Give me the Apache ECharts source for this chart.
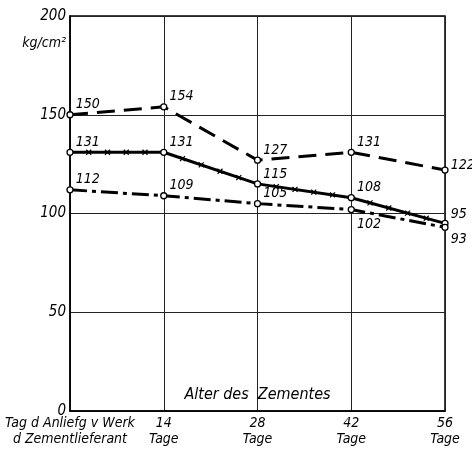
<!DOCTYPE html>
<html><head><meta charset="utf-8">
<script src="https://cdn.jsdelivr.net/npm/echarts@6/dist/echarts.min.js"></script>
<style>html,body{margin:0;padding:0;background:#fff}#c{width:472px;height:449px}</style>
</head><body><div id="c"></div>
<script>
const categories = ['Tag d Anliefg v Werk\nd Zementlieferant', '14\nTage', '28\nTage', '42\nTage', '56\nTage'];
const dashedVals = [150, 154, 127, 131, 122];
const crossedVals = [131, 131, 115, 108, 95];
const dashDotVals = [112, 109, 105, 102, 93];
const yMin = 0, yMax = 200, yStep = 50;
const axisTitle = 'Alter des  Zementes';
const unitLabel = 'kg/cm²';

const FONT = 'DejaVu Sans Condensed';
const labelBase = {show: true, position: 'right', distance: 2, offset: [0, -10],
  fontFamily: FONT, fontStyle: 'italic', fontSize: 14, color: '#000'};
function pts(vals, overrides) {
  return vals.map((v, i) => {
    const o = {value: v};
    if (overrides && overrides[i]) o.label = Object.assign({}, overrides[i]);
    return o;
  });
}
const crossSegs = crossedVals.slice(0, -1).map((v, i) => [i, v, crossedVals[i + 1]]);

const chart = echarts.init(document.getElementById('c'));
const lineBase = {type: 'line', symbol: 'circle', symbolSize: 6, showAllSymbol: true,
  itemStyle: {color: '#fff', borderColor: '#000', borderWidth: 1.3}, label: labelBase, z: 3};
chart.setOption({
  animation: false,
  backgroundColor: '#fff',
  grid: {left: 70, right: 27, top: 16, bottom: 38, show: true, borderColor: '#000', borderWidth: 1.5,
    containLabel: false, outerBoundsMode: 'none'},
  xAxis: {
    type: 'category', data: categories, boundaryGap: false,
    axisLine: {lineStyle: {color: '#000', width: 1.5}}, axisTick: {show: false},
    axisLabel: {color: '#000', fontFamily: FONT, fontStyle: 'italic', fontSize: 14, lineHeight: 16, margin: 4, interval: 0},
    splitLine: {show: true, lineStyle: {color: '#222', width: 1}},
    name: axisTitle, nameLocation: 'middle', nameGap: -24, nameMoveOverlap: false,
    nameTextStyle: {color: '#000', fontFamily: FONT, fontStyle: 'italic', fontSize: 16}
  },
  yAxis: {
    type: 'value', min: yMin, max: yMax, interval: yStep,
    axisLine: {show: true, lineStyle: {color: '#000', width: 1.5}}, axisTick: {show: false},
    axisLabel: {color: '#000', fontFamily: FONT, fontStyle: 'italic', fontSize: 15, margin: 4},
    splitLine: {show: true, lineStyle: {color: '#222', width: 1}},
    name: unitLabel, nameLocation: 'end', nameGap: -27, nameMoveOverlap: false,
    nameTextStyle: {color: '#000', fontFamily: FONT, fontStyle: 'italic', fontSize: 14, align: 'right', verticalAlign: 'middle', padding: [0, 4, 0, 0]}
  },
  series: [
    Object.assign({}, lineBase, {
      data: pts(dashedVals, {4: {offset: [0, -5]}}),
      lineStyle: {color: '#000', width: 3, type: [18, 9]}
    }),
    Object.assign({}, lineBase, {
      data: pts(crossedVals, {4: {offset: [0, -9]}}),
      lineStyle: {color: '#000', width: 3, type: 'solid'}
    }),
    Object.assign({}, lineBase, {
      data: pts(dashDotVals, {3: {offset: [0, 15]}, 4: {offset: [0, 12]}}),
      lineStyle: {color: '#000', width: 3, type: [17, 5, 4, 5]}
    }),
    {
      type: 'custom', data: crossSegs, encode: {x: 0, y: 1}, z: 4, silent: true,
      renderItem: function (params, api) {
        const i = api.value(0);
        const p0 = api.coord([i, api.value(1)]);
        const p1 = api.coord([i + 1, api.value(2)]);
        const children = [];
        const s = 2.5;
        [0.2, 0.4, 0.6, 0.8].forEach(t => {
          const x = p0[0] + (p1[0] - p0[0]) * t;
          const y = p0[1] + (p1[1] - p0[1]) * t;
          children.push({type: 'line', shape: {x1: x - s, y1: y - s, x2: x + s, y2: y + s}, style: {stroke: '#000', lineWidth: 1.2}});
          children.push({type: 'line', shape: {x1: x - s, y1: y + s, x2: x + s, y2: y - s}, style: {stroke: '#000', lineWidth: 1.2}});
        });
        return {type: 'group', children: children};
      }
    }
  ]
});
</script></body></html>
